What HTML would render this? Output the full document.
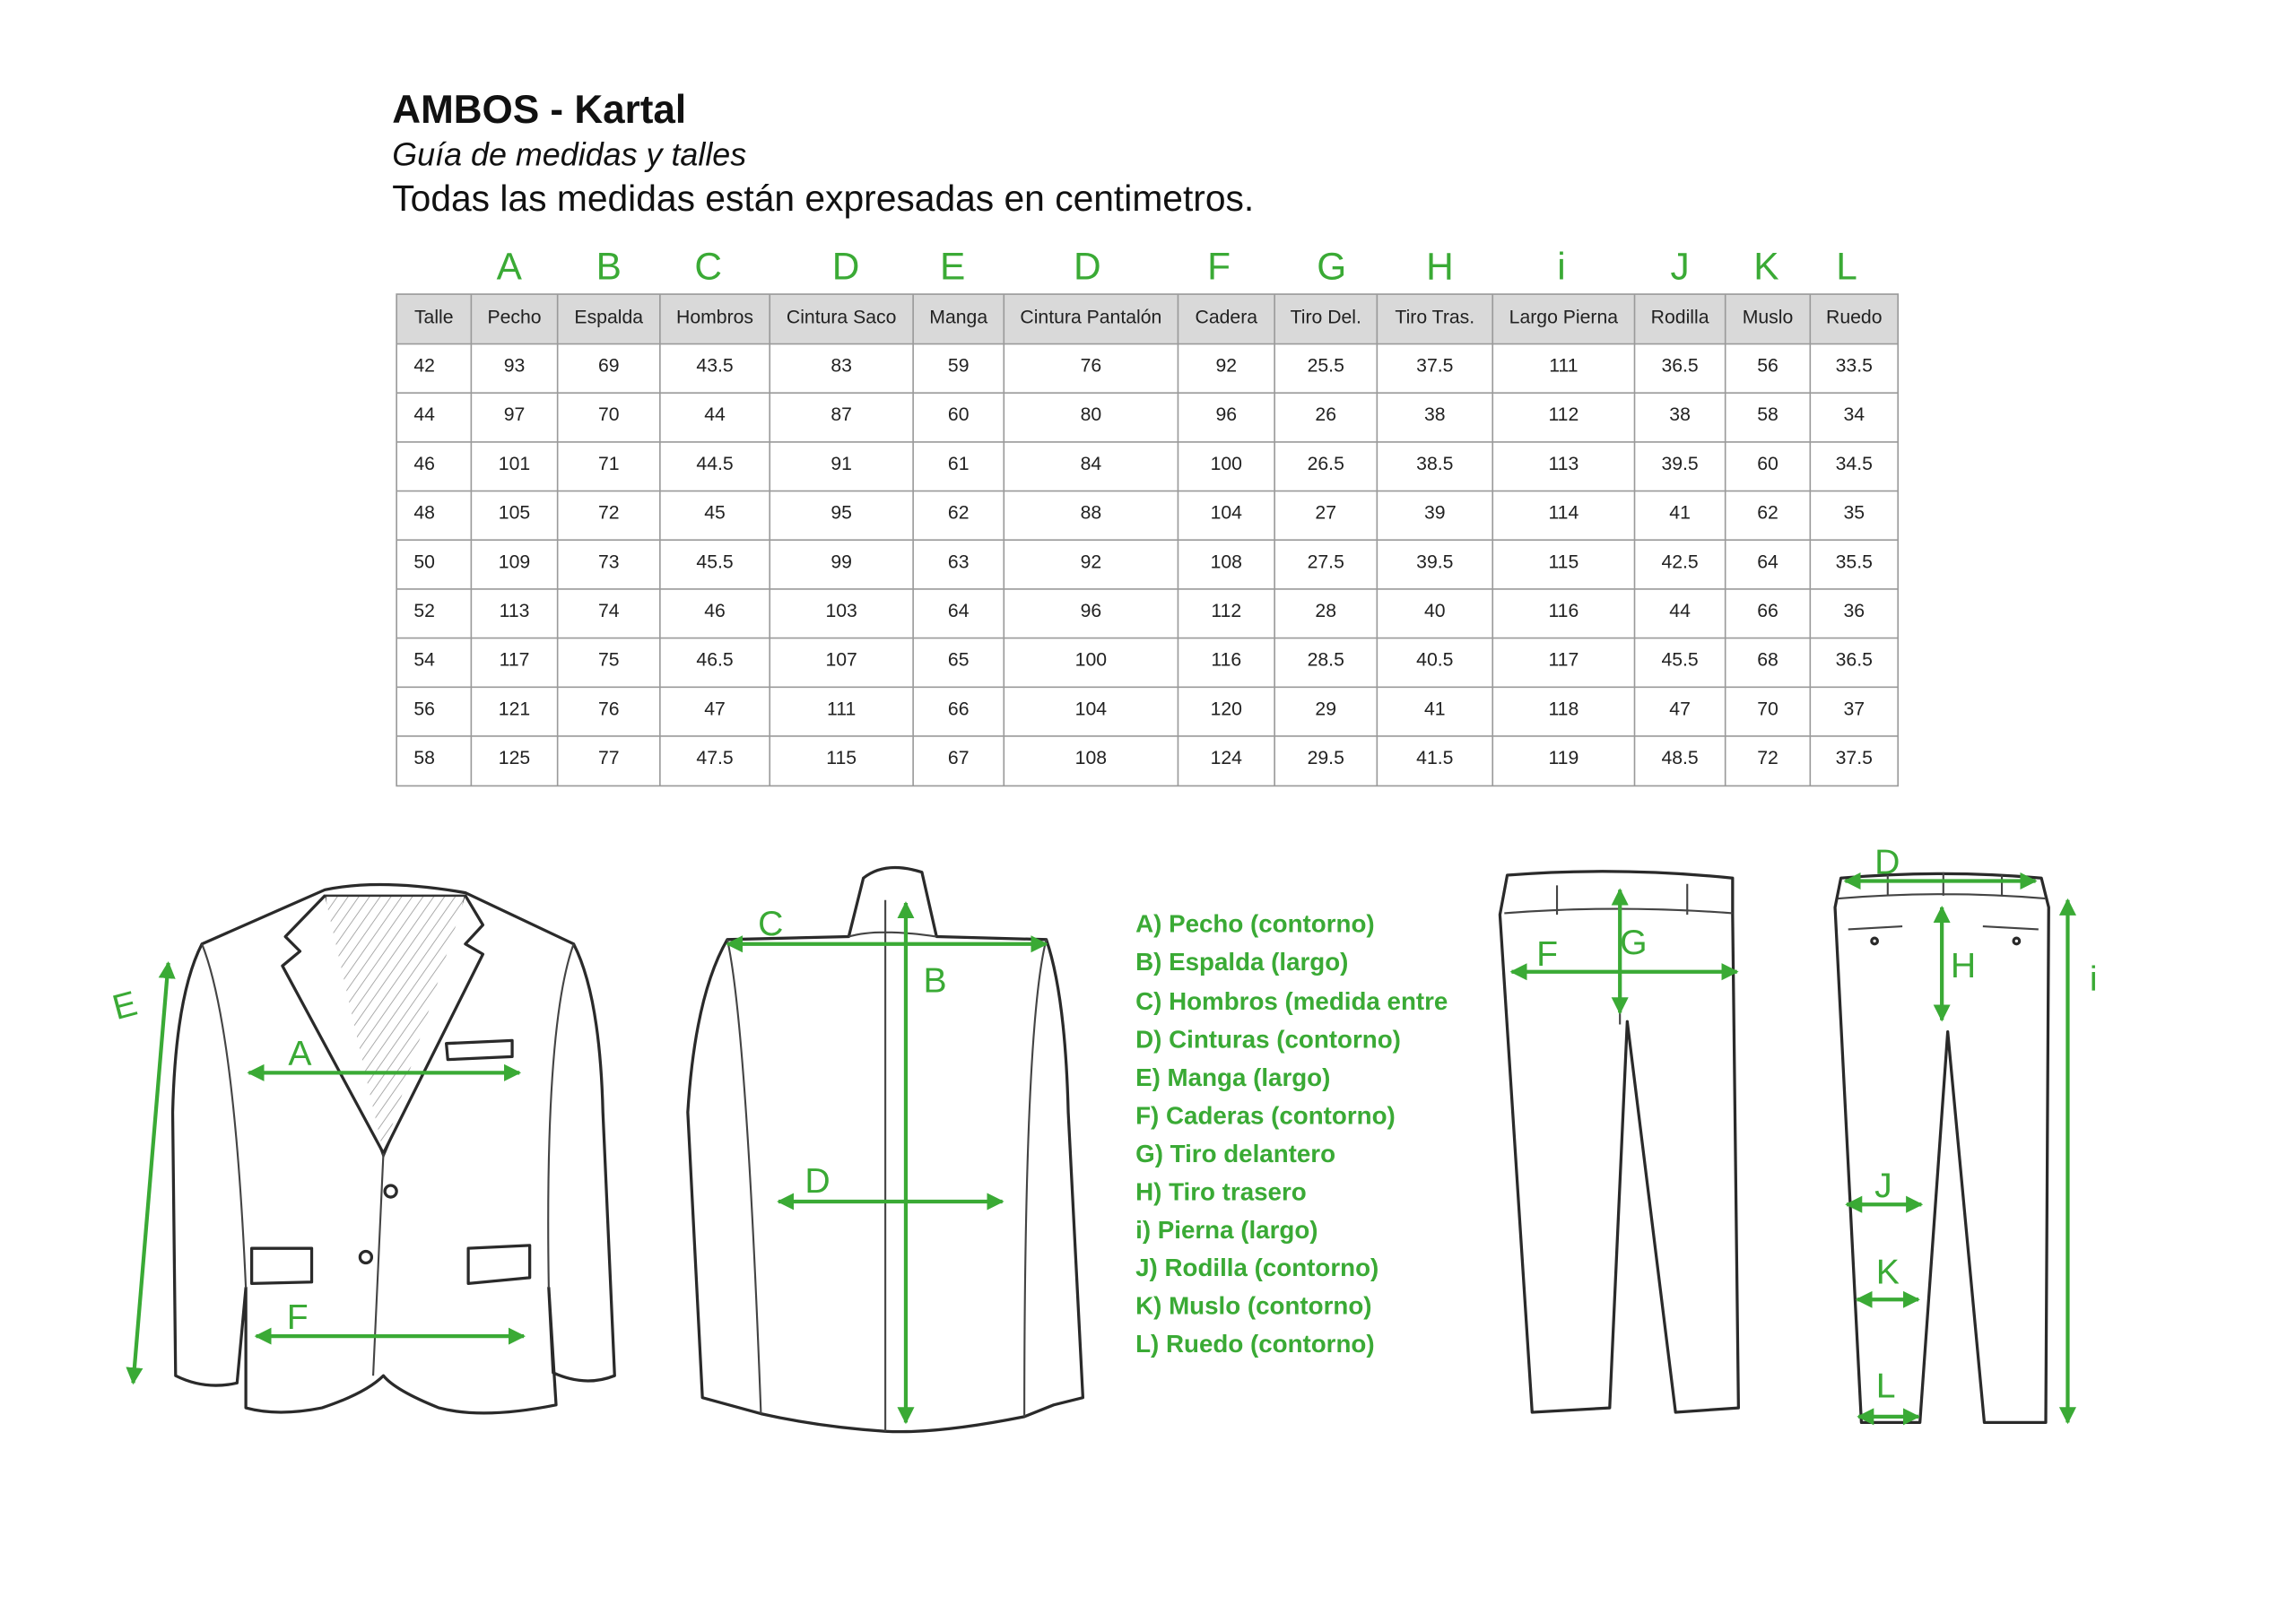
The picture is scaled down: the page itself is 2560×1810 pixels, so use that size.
<!DOCTYPE html>
<html><head><meta charset="utf-8"><style>
html,body{margin:0;padding:0;background:#fff;}
svg{display:block;}
.t{font-family:"Liberation Sans",Arial,sans-serif;}
.c{font-family:"Liberation Sans",sans-serif;font-size:13px;fill:#222;text-anchor:middle;}
.g{font-family:"Liberation Sans",sans-serif;fill:#3aaa35;font-size:26px;text-anchor:middle;}
.lg{font-family:"Liberation Sans Narrow","Liberation Sans",sans-serif;fill:#3aaa35;font-size:17px;font-weight:bold;}
.o{fill:#fff;stroke:#2a2a2a;stroke-width:2;stroke-linejoin:round;}
.s{fill:none;stroke:#444;stroke-width:1.3;}
.a{stroke:#3aaa35;stroke-width:2.6;fill:none;marker-start:url(#m);marker-end:url(#m);}
.gl{font-family:"Liberation Sans",sans-serif;fill:#3aaa35;font-size:24px;}
</style></head><body>
<svg width="2560" height="1810" viewBox="0 0 1569 1109" preserveAspectRatio="none" xmlns="http://www.w3.org/2000/svg">
<defs>
<marker id="m" viewBox="0 0 10 10" refX="9" refY="5" markerWidth="4.5" markerHeight="4.5" orient="auto-start-reverse" markerUnits="strokeWidth"><path d="M0,0 L10,5 L0,10 z" fill="#3aaa35"/></marker>
<pattern id="h" width="6" height="6" patternUnits="userSpaceOnUse" patternTransform="rotate(35)"><line x1="0" y1="0" x2="0" y2="6" stroke="#999" stroke-width="1"/></pattern>
</defs>
<rect width="1569" height="1109" fill="#fff"/>
<text class="t" x="268" y="84" font-size="27" font-weight="bold" fill="#111">AMBOS - Kartal</text>
<text class="t" x="268" y="113" font-size="22" font-style="italic" fill="#111">Guía de medidas y talles</text>
<text class="t" x="268" y="144" font-size="25" fill="#111">Todas las medidas están expresadas en centimetros.</text>

<g class="g">
<text x="348" y="191">A</text><text x="416" y="191">B</text><text x="484" y="191">C</text><text x="578" y="191">D</text><text x="651" y="191">E</text><text x="743" y="191">D</text><text x="833" y="191">F</text><text x="910" y="191">G</text><text x="984" y="191">H</text><text x="1067" y="191">i</text><text x="1148" y="191">J</text><text x="1207" y="191">K</text><text x="1262" y="191">L</text>
</g>

<rect x="271" y="201" width="1026" height="34" fill="#d9d9d9"/>
<g stroke="#9a9a9a" stroke-width="1" fill="none">
<rect x="271" y="201" width="1026" height="336"/>
<path d="M271 235H1297M271 268.5H1297M271 302H1297M271 335.5H1297M271 369H1297M271 402.5H1297M271 436H1297M271 469.5H1297M271 503H1297"/>
<path d="M322 201V537M381 201V537M451 201V537M526 201V537M624 201V537M686 201V537M805 201V537M871 201V537M941 201V537M1020 201V537M1117 201V537M1179 201V537M1237 201V537"/>
</g>
<g class="c">
<text x="296.5" y="221">Talle</text><text x="351.5" y="221">Pecho</text><text x="416" y="221">Espalda</text><text x="488.5" y="221">Hombros</text><text x="575" y="221">Cintura Saco</text><text x="655" y="221">Manga</text><text x="745.5" y="221">Cintura Pantalón</text><text x="838" y="221">Cadera</text><text x="906" y="221">Tiro Del.</text><text x="980.5" y="221">Tiro Tras.</text><text x="1068.5" y="221">Largo Pierna</text><text x="1148" y="221">Rodilla</text><text x="1208" y="221">Muslo</text><text x="1267" y="221">Ruedo</text>
</g>
<g class="c">
<g transform="translate(0,254)"><text x="290">42</text><text x="351.5">93</text><text x="416">69</text><text x="488.5">43.5</text><text x="575">83</text><text x="655">59</text><text x="745.5">76</text><text x="838">92</text><text x="906">25.5</text><text x="980.5">37.5</text><text x="1068.5">111</text><text x="1148">36.5</text><text x="1208">56</text><text x="1267">33.5</text></g>
<g transform="translate(0,287.5)"><text x="290">44</text><text x="351.5">97</text><text x="416">70</text><text x="488.5">44</text><text x="575">87</text><text x="655">60</text><text x="745.5">80</text><text x="838">96</text><text x="906">26</text><text x="980.5">38</text><text x="1068.5">112</text><text x="1148">38</text><text x="1208">58</text><text x="1267">34</text></g>
<g transform="translate(0,321)"><text x="290">46</text><text x="351.5">101</text><text x="416">71</text><text x="488.5">44.5</text><text x="575">91</text><text x="655">61</text><text x="745.5">84</text><text x="838">100</text><text x="906">26.5</text><text x="980.5">38.5</text><text x="1068.5">113</text><text x="1148">39.5</text><text x="1208">60</text><text x="1267">34.5</text></g>
<g transform="translate(0,354.5)"><text x="290">48</text><text x="351.5">105</text><text x="416">72</text><text x="488.5">45</text><text x="575">95</text><text x="655">62</text><text x="745.5">88</text><text x="838">104</text><text x="906">27</text><text x="980.5">39</text><text x="1068.5">114</text><text x="1148">41</text><text x="1208">62</text><text x="1267">35</text></g>
<g transform="translate(0,388)"><text x="290">50</text><text x="351.5">109</text><text x="416">73</text><text x="488.5">45.5</text><text x="575">99</text><text x="655">63</text><text x="745.5">92</text><text x="838">108</text><text x="906">27.5</text><text x="980.5">39.5</text><text x="1068.5">115</text><text x="1148">42.5</text><text x="1208">64</text><text x="1267">35.5</text></g>
<g transform="translate(0,421.5)"><text x="290">52</text><text x="351.5">113</text><text x="416">74</text><text x="488.5">46</text><text x="575">103</text><text x="655">64</text><text x="745.5">96</text><text x="838">112</text><text x="906">28</text><text x="980.5">40</text><text x="1068.5">116</text><text x="1148">44</text><text x="1208">66</text><text x="1267">36</text></g>
<g transform="translate(0,455)"><text x="290">54</text><text x="351.5">117</text><text x="416">75</text><text x="488.5">46.5</text><text x="575">107</text><text x="655">65</text><text x="745.5">100</text><text x="838">116</text><text x="906">28.5</text><text x="980.5">40.5</text><text x="1068.5">117</text><text x="1148">45.5</text><text x="1208">68</text><text x="1267">36.5</text></g>
<g transform="translate(0,488.5)"><text x="290">56</text><text x="351.5">121</text><text x="416">76</text><text x="488.5">47</text><text x="575">111</text><text x="655">66</text><text x="745.5">104</text><text x="838">120</text><text x="906">29</text><text x="980.5">41</text><text x="1068.5">118</text><text x="1148">47</text><text x="1208">70</text><text x="1267">37</text></g>
<g transform="translate(0,522)"><text x="290">58</text><text x="351.5">125</text><text x="416">77</text><text x="488.5">47.5</text><text x="575">115</text><text x="655">67</text><text x="745.5">108</text><text x="838">124</text><text x="906">29.5</text><text x="980.5">41.5</text><text x="1068.5">119</text><text x="1148">48.5</text><text x="1208">72</text><text x="1267">37.5</text></g>
</g>

<path class="o" d="M222,608 Q260,600 318,610 L392,645 Q410,680 412,760 L420,940 Q400,948 378,938 L375,880 L380,960 Q330,970 300,962 Q270,950 262,940 Q250,952 220,962 Q190,968 168,962 L168,880 L162,945 Q140,950 120,940 L118,760 Q120,680 138,645 Z"/>
<path d="M222,612 L318,612 L300,700 L262,790 L230,700 Z" fill="url(#h)" stroke="#333" stroke-width="1.5"/>
<path class="o" d="M222,612 L195,640 L205,650 L193,660 L262,788 M318,612 L330,632 L318,645 L330,652 L262,788"/>
<path class="s" d="M138,645 Q160,700 168,880 M392,645 Q372,700 375,880 M262,788 L255,940"/>
<path class="o" d="M305,713 L350,711 L350,722 L306,724 Z M172,853 L213,853 L213,876 L172,877 Z M320,853 L362,851 L362,873 L320,877 Z"/>
<circle cx="267" cy="814" r="4" class="o"/><circle cx="250" cy="859" r="4" class="o"/>
<path class="o" d="M590,600 Q605,588 630,596 L640,640 L715,642 Q728,680 730,760 L740,955 L720,960 L700,968 Q640,980 605,978 Q560,975 520,966 L480,955 L470,760 Q475,680 497,642 L580,640 Z"/>
<path class="s" d="M580,640 Q600,634 640,640 M605,615 L605,978 M497,642 Q510,700 520,966 M715,642 Q700,700 700,968"/>
<path class="o" d="M1030,598 Q1105,592 1184,600 L1184,625 L1188,962 L1145,965 L1112,698 L1100,962 L1047,965 L1025,625 L1030,598 Z"/>
<path class="s" d="M1028,624 Q1105,618 1184,624 M1064,605 L1064,625 M1153,604 L1153,625 M1107,700 L1107,625"/>
<path class="o" d="M1258,600 Q1328,594 1395,600 L1400,620 L1398,972 L1356,972 L1331,705 L1312,972 L1272,972 L1254,620 Z"/>
<path class="s" d="M1256,614 Q1328,608 1398,614 M1263,635 L1300,633 M1355,633 L1393,635 M1290,598 L1290,612 M1328,596 L1328,612 M1368,598 L1368,612"/>
<circle cx="1281" cy="643" r="2" class="o"/><circle cx="1378" cy="643" r="2" class="o"/>

<g>
<line class="a" x1="115" y1="658" x2="91" y2="945"/>
<line class="a" x1="170" y1="733" x2="355" y2="733"/>
<line class="a" x1="175" y1="913" x2="358" y2="913"/>
<line class="a" x1="497" y1="645" x2="715" y2="645"/>
<line class="a" x1="619" y1="617" x2="619" y2="972"/>
<line class="a" x1="532" y1="821" x2="685" y2="821"/>
<line class="a" x1="1033" y1="664" x2="1187" y2="664"/>
<line class="a" x1="1107" y1="608" x2="1107" y2="692"/>
<line class="a" x1="1261" y1="602" x2="1391" y2="602"/>
<line class="a" x1="1327" y1="620" x2="1327" y2="697"/>
<line class="a" x1="1413" y1="615" x2="1413" y2="972"/>
<line class="a" x1="1262" y1="823" x2="1313" y2="823"/>
<line class="a" x1="1269" y1="888" x2="1311" y2="888"/>
<line class="a" x1="1270" y1="968" x2="1311" y2="968"/>
</g>
<g class="gl">
<text x="78" y="695" transform="rotate(-15 86 690)">E</text>
<text x="197" y="728">A</text><text x="196" y="908">F</text>
<text x="518" y="639">C</text><text x="631" y="678">B</text><text x="550" y="815">D</text>
<text x="1050" y="660">F</text><text x="1107" y="652">G</text>
<text x="1281" y="597">D</text><text x="1333" y="668">H</text><text x="1428" y="677">i</text>
<text x="1281" y="818">J</text><text x="1282" y="877">K</text><text x="1282" y="955">L</text>
</g>

<g class="lg">
<text x="776" y="637">A) Pecho (contorno)</text>
<text x="776" y="663">B) Espalda (largo)</text>
<text x="776" y="690">C) Hombros (medida entre</text>
<text x="776" y="716">D) Cinturas (contorno)</text>
<text x="776" y="742">E) Manga (largo)</text>
<text x="776" y="768">F) Caderas (contorno)</text>
<text x="776" y="794">G) Tiro delantero</text>
<text x="776" y="820">H) Tiro trasero</text>
<text x="776" y="846">i) Pierna (largo)</text>
<text x="776" y="872">J) Rodilla (contorno)</text>
<text x="776" y="898">K) Muslo (contorno)</text>
<text x="776" y="924">L) Ruedo (contorno)</text>
</g>
</svg>
</body></html>
